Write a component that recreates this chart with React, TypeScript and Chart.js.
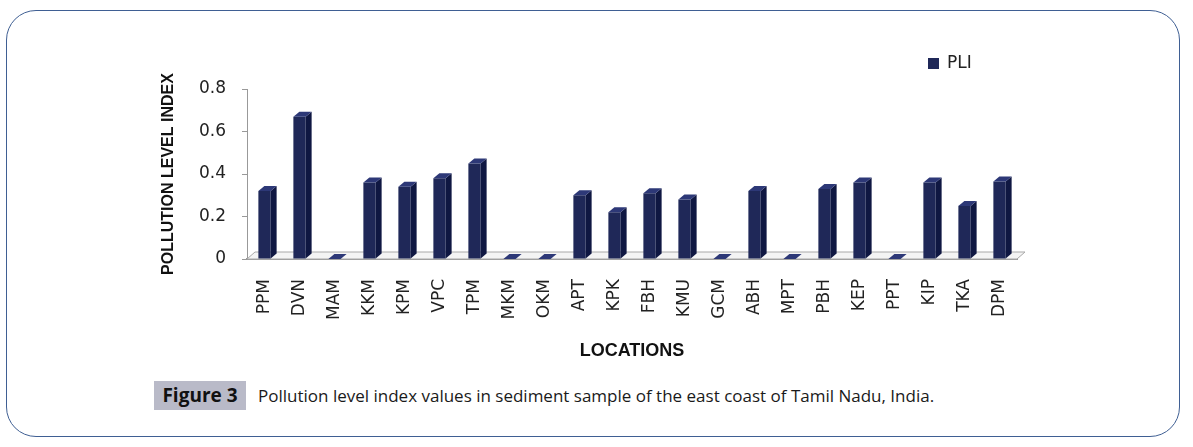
import React, { useEffect, useRef } from "react";
import { Chart, registerables } from "chart.js";

Chart.register(...registerables);

const categories = ["PPM", "DVN", "MAM", "KKM", "KPM", "VPC", "TPM", "MKM", "OKM", "APT", "KPK", "FBH", "KMU", "GCM", "ABH", "MPT", "PBH", "KEP", "PPT", "KIP", "TKA", "DPM"];
const pliValues = [0.32, 0.67, 0, 0.36, 0.34, 0.38, 0.45, 0, 0, 0.3, 0.22, 0.31, 0.28, 0, 0.32, 0, 0.33, 0.36, 0, 0.36, 0.25, 0.365];
const yTickValues = [0, 0.2, 0.4, 0.6, 0.8];
const seriesLabel = "PLI";
const xTitle = "LOCATIONS";
const yTitle = "POLLUTION LEVEL INDEX";
const figureLabel = "Figure 3";
const captionText = "Pollution level index values in sediment sample of the east coast of Tamil Nadu, India.";

const FRONT = "#1f2858";
const SIDE = "#0f1742";
const TOP = "#2d3877";
const DEPTH_X = 6;
const DEPTH_Y = 5;
const FLOOR_X = 8;
const FLOOR_Y = 7;

const bar3d = {
  id: "bar3d",
  beforeDatasetsDraw(chart: any) {
    const { ctx, chartArea: a } = chart;
    const y0 = chart.scales.y.getPixelForValue(0);
    ctx.save();
    ctx.beginPath();
    ctx.moveTo(a.left, y0);
    ctx.lineTo(a.left + FLOOR_X, y0 - FLOOR_Y);
    ctx.lineTo(a.right + FLOOR_X, y0 - FLOOR_Y);
    ctx.lineTo(a.right, y0);
    ctx.closePath();
    ctx.fillStyle = "#f4f4f4";
    ctx.fill();
    ctx.strokeStyle = "#a8a8a8";
    ctx.lineWidth = 1;
    ctx.stroke();
    ctx.restore();
  },
  afterDatasetsDraw(chart: any) {
    const { ctx } = chart;
    const meta = chart.getDatasetMeta(0);
    ctx.save();
    meta.data.forEach((el: any) => {
      const { x, y, base, width } = el.getProps(["x", "y", "base", "width"], true);
      const l = x - width / 2;
      const r = x + width / 2;
      ctx.fillStyle = SIDE;
      ctx.beginPath();
      ctx.moveTo(r, y);
      ctx.lineTo(r + DEPTH_X, y - DEPTH_Y);
      ctx.lineTo(r + DEPTH_X, base - DEPTH_Y);
      ctx.lineTo(r, base);
      ctx.closePath();
      ctx.fill();
      ctx.fillStyle = TOP;
      ctx.beginPath();
      ctx.moveTo(l, y);
      ctx.lineTo(l + DEPTH_X, y - DEPTH_Y);
      ctx.lineTo(r + DEPTH_X, y - DEPTH_Y);
      ctx.lineTo(r, y);
      ctx.closePath();
      ctx.fill();
    });
    ctx.restore();
  },
  afterDraw(chart: any) {
    const { ctx, chartArea: a } = chart;
    const ds = chart.data.datasets[0];
    const bx = a.right - 89;
    const by = a.top - 31;
    ctx.save();
    ctx.fillStyle = ds.backgroundColor;
    ctx.fillRect(bx, by, 11, 11);
    ctx.font = '17px "DejaVu Sans"';
    ctx.fillStyle = "#222";
    ctx.textBaseline = "middle";
    ctx.textAlign = "left";
    ctx.fillText(ds.label, bx + 19, by + 6);
    ctx.restore();
  },
};

export default function App() {
  const ref = useRef<HTMLCanvasElement>(null);

  useEffect(() => {
    if (!ref.current) return;
    const chart = new Chart(ref.current, {
      type: "bar",
      data: {
        labels: categories,
        datasets: [
          {
            label: seriesLabel,
            data: pliValues,
            backgroundColor: FRONT,
            borderWidth: 0,
            barPercentage: 0.35,
            categoryPercentage: 1,
          },
        ],
      },
      options: {
        responsive: false,
        animation: false,
        layout: { padding: { top: 49, right: 33, left: 0, bottom: 0 } },
        plugins: {
          legend: { display: false },
          tooltip: { enabled: false },
        },
        scales: {
          x: {
            grid: { display: false, drawTicks: false },
            border: { display: true, color: "#999", width: 2 },
            ticks: {
              minRotation: 90,
              maxRotation: 90,
              autoSkip: false,
              padding: 20,
              color: "#222",
              font: { family: '"DejaVu Sans"', size: 17 },
            },
            title: {
              display: true,
              text: xTitle,
              color: "#111",
              font: { family: '"Liberation Sans"', size: 18, weight: "bold" },
              padding: { top: 0, bottom: 8 },
            },
            afterFit(scale: any) {
              scale.height = 111;
            },
          },
          y: {
            min: 0,
            max: 0.8,
            afterBuildTicks(scale: any) {
              scale.ticks = yTickValues.map((v) => ({ value: v }));
            },
            grid: { display: true, drawOnChartArea: false, drawTicks: true, tickLength: 5, color: "#999" },
            border: { display: true, color: "#999", width: 1 },
            ticks: {
              padding: 16,
              color: "#222",
              font: { family: '"DejaVu Sans"', size: 17 },
            },
            title: {
              display: true,
              text: yTitle,
              color: "#111",
              font: { family: '"Liberation Sans"', size: 16, weight: "bold" },
              padding: { top: 9, bottom: 0 },
            },
            afterFit(scale: any) {
              scale.width = 97;
            },
          },
        },
      },
      plugins: [bar3d],
    });
    return () => chart.destroy();
  }, []);

  return (
    <div style={{ position: "absolute", left: 0, top: 0, width: 1193, height: 447, background: "#fff", overflow: "hidden" }}>
      <div
        style={{
          position: "absolute",
          left: 6,
          top: 10,
          width: 1174,
          height: 427,
          boxSizing: "border-box",
          border: "1.5px solid #3f5f93",
          borderRadius: 30,
        }}
      />
      <div style={{ position: "absolute", left: 150, top: 40, width: 900, height: 330 }}>
        <canvas ref={ref} width={900} height={330} style={{ width: 900, height: 330, display: "block" }} />
      </div>
      <div
        style={{
          position: "absolute",
          left: 154,
          top: 381,
          width: 92,
          height: 29,
          background: "#b9bac8",
          color: "#111",
          fontFamily: '"Open Sans", sans-serif',
          fontWeight: 700,
          fontSize: 19,
          lineHeight: "29px",
          textAlign: "center",
        }}
      >
        {figureLabel}
      </div>
      <div
        style={{
          position: "absolute",
          left: 258,
          top: 381,
          height: 29,
          whiteSpace: "nowrap",
          color: "#1a1a1a",
          fontFamily: '"Open Sans", sans-serif',
          fontSize: 17,
          lineHeight: "29px",
        }}
      >
        {captionText}
      </div>
    </div>
  );
}
